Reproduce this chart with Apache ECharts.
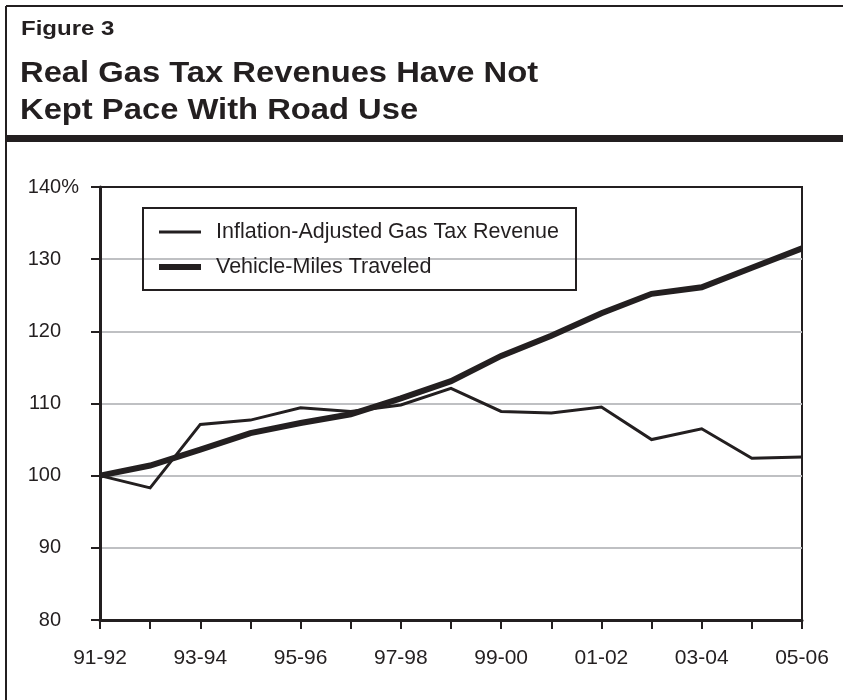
<!DOCTYPE html>
<html>
<head>
<meta charset="utf-8">
<script src="https://cdn.jsdelivr.net/npm/echarts@6/dist/echarts.min.js"></script>
<style>
  html, body { margin: 0; padding: 0; background: #ffffff; }
  #chart { width: 843px; height: 700px; }
</style>
</head>
<body>
<div id="chart"></div>
<script>
// Fiscal years on the horizontal axis
const fiscalYears = ['91-92', '92-93', '93-94', '94-95', '95-96', '96-97', '97-98', '98-99',
                     '99-00', '00-01', '01-02', '02-03', '03-04', '04-05', '05-06'];

// Index, 1991-92 = 100%
const gasTaxRevenue = [100, 98.3, 107.1, 107.7, 109.4, 108.9, 109.8, 112.1,
                       108.9, 108.7, 109.5, 105.0, 106.5, 102.4, 102.6];
const vehicleMiles = [100, 101.4, 103.6, 105.9, 107.3, 108.5, 110.7, 113.1,
                      116.6, 119.4, 122.5, 125.2, 126.1, 128.8, 131.5];

const seriesNames = ['Inflation-Adjusted Gas Tax Revenue', 'Vehicle-Miles Traveled'];
const figureLabel = 'Figure 3';
const figureTitle = 'Real Gas Tax Revenues Have Not\nKept Pace With Road Use';

const INK = '#231f20';
const FONT = '"Liberation Sans", Arial, Helvetica, sans-serif';

const chart = echarts.init(document.getElementById('chart'), null, { renderer: 'canvas' });

chart.setOption({
  backgroundColor: '#ffffff',
  animation: false,
  textStyle: { fontFamily: FONT, color: INK },
  graphic: [
    // frame: top and left rules, heavy rule under the heading
    { type: 'line', shape: { x1: 6, y1: 6, x2: 843, y2: 6 }, style: { stroke: INK, lineWidth: 2 } },
    { type: 'line', shape: { x1: 6, y1: 6, x2: 6, y2: 700 }, style: { stroke: INK, lineWidth: 2 } },
    { type: 'rect', shape: { x: 6, y: 135, width: 837, height: 7 }, style: { fill: INK } },
    // heading, set in a wide bold face
    {
      type: 'text', x: 21, y: 19, scaleX: 1.2,
      style: {
        text: figureLabel, fontFamily: FONT, fontWeight: 'bold', fontSize: 20, lineHeight: 20,
        fill: INK, align: 'left', verticalAlign: 'top'
      }
    },
    {
      type: 'text', x: 20, y: 55, scaleX: 1.11,
      style: {
        text: figureTitle, fontFamily: FONT, fontWeight: 'bold', fontSize: 29.5, lineHeight: 37,
        fill: INK, align: 'left', verticalAlign: 'top'
      }
    }
  ],
  legend: {
    orient: 'vertical',
    left: 143, top: 208,
    padding: [13, 17, 12, 16],
    borderColor: INK, borderWidth: 2,
    itemWidth: 42, itemHeight: 21, itemGap: 13,
    textStyle: { fontFamily: FONT, fontSize: 21.5, lineHeight: 21, color: INK, padding: [0, 0, 0, 10] },
    data: [
      { name: seriesNames[0], icon: 'path://M0,0H42V3H0Z', itemStyle: { color: INK } },
      { name: seriesNames[1], icon: 'path://M0,0H42V6H0Z', itemStyle: { color: INK } }
    ]
  },
  grid: {
    left: 100, right: 41, top: 187, bottom: 80,
    show: true, borderColor: INK, borderWidth: 2, backgroundColor: 'transparent'
  },
  xAxis: {
    type: 'category',
    data: fiscalYears,
    boundaryGap: false,
    axisLine: { lineStyle: { color: INK, width: 3 } },
    axisTick: { show: true, inside: false, length: 9, interval: 0, lineStyle: { color: INK, width: 2 } },
    axisLabel: { interval: 1, margin: 28, fontFamily: FONT, fontSize: 21, color: INK },
    splitLine: { show: false }
  },
  yAxis: {
    type: 'value',
    min: 80, max: 140, interval: 10,
    axisLine: { show: true, lineStyle: { color: INK, width: 3 } },
    axisTick: { show: true, inside: false, length: 9, lineStyle: { color: INK, width: 2 } },
    axisLabel: {
      margin: 21,
      align: 'right',
      fontFamily: FONT, fontSize: 20, color: INK,
      formatter: function (v) {
        return v === 140 ? '{n|' + v + '}{n|%}' : '{n|' + v + '}{s|}';
      },
      rich: {
        n: { fontFamily: FONT, fontSize: 20, color: INK },
        s: { width: 18 }
      }
    },
    splitLine: { show: true, showMinLine: false, showMaxLine: false, lineStyle: { color: '#bfc0c3', width: 2 } }
  },
  series: [
    {
      name: seriesNames[0],
      type: 'line',
      data: gasTaxRevenue,
      symbol: 'none',
      lineStyle: { color: INK, width: 3, join: 'miter' },
      itemStyle: { color: INK },
      z: 3
    },
    {
      name: seriesNames[1],
      type: 'line',
      data: vehicleMiles,
      symbol: 'none',
      lineStyle: { color: INK, width: 6, join: 'miter' },
      itemStyle: { color: INK },
      z: 4
    }
  ]
});
</script>
</body>
</html>
